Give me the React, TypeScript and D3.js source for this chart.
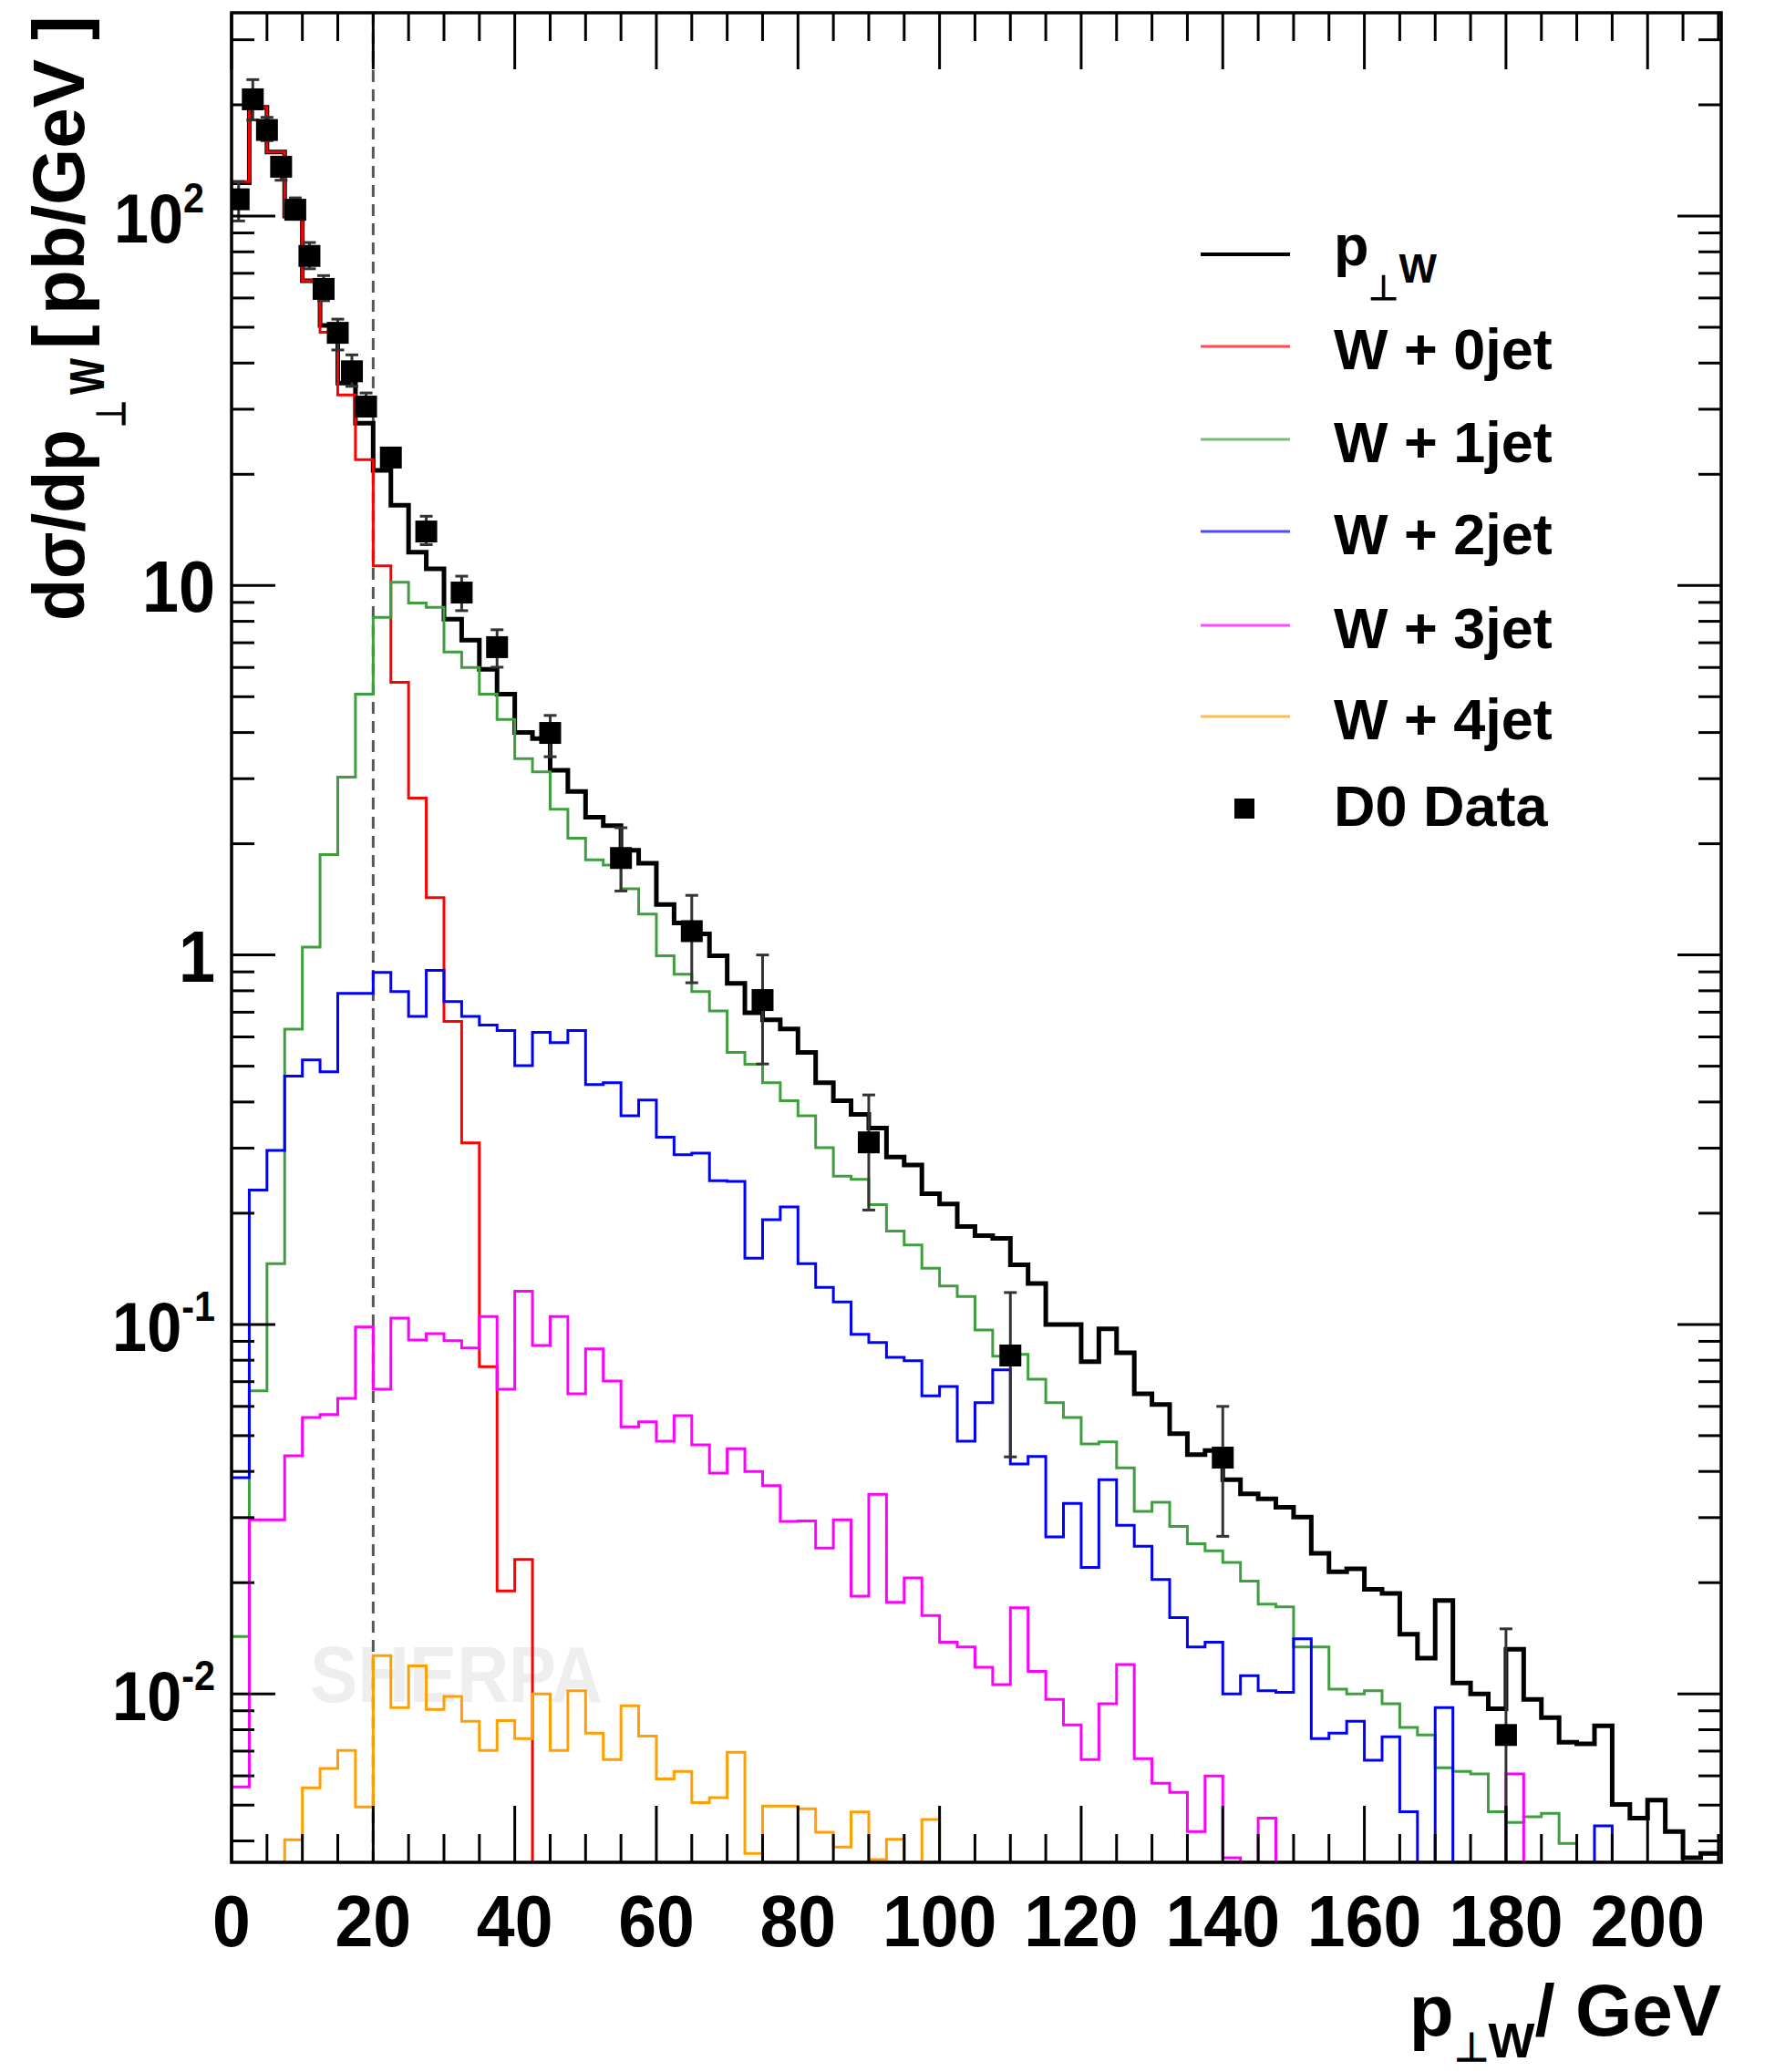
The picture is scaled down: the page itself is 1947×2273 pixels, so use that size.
import { useEffect, useRef } from "react";
import * as d3 from "d3";

const WIDTH = 1947;
const HEIGHT = 2273;

// Histograms: 84 bins of 2.5 GeV (0 .. 210 GeV), dσ/dp⊥W in pb/GeV
const binEdges = d3.range(0, 210.001, 2.5);

const total = [
  123, 197, 149, 100, 66.8, 50.6, 35.3, 27.5, 20.5, 16.5,
  12.3, 11.1, 8.11, 7.11, 5.93, 5.08, 4.0, 3.85, 3.16, 2.77,
  2.36, 2.24, 1.92, 1.77, 1.37, 1.22, 1.14, 0.995, 0.838, 0.698,
  0.668, 0.631, 0.545, 0.451, 0.403, 0.37, 0.34, 0.284, 0.27, 0.226,
  0.212, 0.184, 0.174, 0.171, 0.145, 0.129, 0.1, 0.1, 0.0793, 0.0973,
  0.0838, 0.0649, 0.0607, 0.0506, 0.0444, 0.0456, 0.038, 0.0348, 0.0337, 0.032,
  0.0301, 0.024, 0.0214, 0.0218, 0.0192, 0.0187, 0.0145, 0.0125, 0.0179, 0.0107,
  0.01, 0.00912, 0.0132, 0.00966, 0.00863, 0.0074, 0.00733, 0.0082, 0.00502, 0.00461,
  0.00516, 0.00424, 0.0036, 0.0037,
];

const jet0 = [
  124, 197, 149, 100, 66.8, 48.5, 32.8, 21.9, 11.3, 5.47,
  2.66, 1.43, 0.661, 0.31, 0.0769, 0.019, 0.0231, 0, 0, 0,
  0, 0, 0, 0, 0, 0, 0, 0, 0, 0,
  0, 0, 0, 0, 0, 0, 0, 0, 0, 0,
  0, 0, 0, 0, 0, 0, 0, 0, 0, 0,
  0, 0, 0, 0, 0, 0, 0, 0, 0, 0,
  0, 0, 0, 0, 0, 0, 0, 0, 0, 0,
  0, 0, 0, 0, 0, 0, 0, 0, 0, 0,
  0, 0, 0, 0,
];

const jet1 = [
  0.0143, 0.0661, 0.146, 0.63, 1.05, 1.87, 3.03, 5.08, 8.2, 10.2,
  8.97, 8.73, 6.61, 6.0, 5.08, 4.34, 3.4, 3.13, 2.48, 2.07,
  1.81, 1.75, 1.51, 1.29, 0.995, 0.887, 0.796, 0.706, 0.545, 0.506,
  0.451, 0.403, 0.367, 0.301, 0.252, 0.247, 0.211, 0.179, 0.164, 0.142,
  0.127, 0.119, 0.0966, 0.082, 0.083, 0.0711, 0.0614, 0.056, 0.0475, 0.0481,
  0.0409, 0.0312, 0.033, 0.0284, 0.0255, 0.0244, 0.0227, 0.0202, 0.0175, 0.0172,
  0.0134, 0.0134, 0.0103, 0.01, 0.0102, 0.0094, 0.00811, 0.00774, 0.00631, 0.00617,
  0.00607, 0.0048, 0.00449, 0.00465, 0.00475, 0.00394, 0, 0, 0, 0,
  0, 0, 0, 0,
];

const jet2 = [
  0.0385, 0.231, 0.296, 0.47, 0.52, 0.483, 0.787, 0.787, 0.897, 0.796,
  0.682, 0.908, 0.748, 0.682, 0.646, 0.624, 0.502, 0.617, 0.579, 0.624,
  0.446, 0.451, 0.367, 0.405, 0.321, 0.288, 0.291, 0.245, 0.244, 0.151,
  0.192, 0.208, 0.146, 0.126, 0.115, 0.094, 0.0893, 0.0815, 0.0798, 0.0641,
  0.0679, 0.0483, 0.0614, 0.0753, 0.0419, 0.0439, 0.0266, 0.0328, 0.022, 0.038,
  0.0286, 0.0251, 0.0204, 0.0161, 0.0134, 0.0138, 0.01, 0.0112, 0.0102, 0.0101,
  0.0141, 0.00757, 0.00783, 0.00843, 0.00661, 0.00766, 0.0048, 0, 0.00918, 0,
  0, 0, 0, 0, 0, 0, 0, 0.00439, 0, 0,
  0, 0, 0, 0,
];

const jet3 = [
  0.0056, 0.0296, 0.0296, 0.0441, 0.056, 0.057, 0.0631, 0.0984, 0.0668, 0.104,
  0.0908, 0.0944, 0.0904, 0.0863, 0.105, 0.0668, 0.123, 0.0877, 0.105, 0.0649,
  0.0859, 0.0703, 0.0528, 0.0545, 0.0483, 0.0566, 0.0472, 0.0396, 0.0461, 0.04,
  0.0366, 0.0293, 0.0294, 0.0248, 0.0296, 0.0184, 0.0347, 0.0177, 0.0206, 0.0163,
  0.0138, 0.0134, 0.0118, 0.0106, 0.0171, 0.0115, 0.00966, 0.00824, 0.00664, 0.0094,
  0.012, 0.00668, 0.00573, 0.00541, 0.00424, 0.006, 0.0036, 0, 0.00461, 0,
  0, 0, 0, 0, 0, 0, 0, 0, 0, 0,
  0, 0, 0.00607, 0, 0, 0, 0, 0, 0, 0,
  0, 0, 0, 0,
];

const jet4 = [
  0, 0, 0, 0.00403, 0.00557, 0.00628, 0.00703, 0.00494, 0.0127, 0.00918,
  0.0119, 0.00908, 0.00984, 0.00843, 0.00703, 0.00847, 0.00757, 0.01, 0.00703, 0.0102,
  0.00783, 0.00664, 0.00929, 0.00769, 0.00589, 0.00617, 0.00508, 0.00524, 0.00695, 0.0037,
  0.00497, 0.00497, 0.00489, 0.00422, 0.00385, 0.00479, 0.00356, 0.00404, 0, 0.00457,
  0, 0, 0, 0, 0, 0, 0, 0, 0, 0,
  0, 0, 0, 0, 0, 0, 0, 0, 0, 0,
  0, 0, 0, 0, 0, 0, 0, 0, 0, 0,
  0, 0, 0, 0, 0, 0, 0, 0, 0, 0,
  0, 0, 0, 0,
];

// D0 data points
const dataPt = [1, 3, 5, 7, 9, 11, 13, 15, 17, 19, 22.5, 27.5, 32.5, 37.5, 45, 55, 65, 75, 90, 110, 140, 180];
const dataVal = [111, 207, 171, 136, 104, 78, 63.5, 48.3, 38, 30.5, 22.2, 14, 9.57, 6.81, 3.99, 1.83, 1.16, 0.755, 0.311, 0.0824, 0.0436, 0.00774];
const dataLo = [97, 182, 160, 125, 98, 72, 59, 43.4, 34.6, 29, 21, 12.9, 8.55, 6.01, 3.44, 1.49, 0.841, 0.507, 0.204, 0.0438, 0.0267, 0.001];
const dataHi = [124, 234, 185, 144, 112, 84.8, 69, 52.6, 42.1, 33.2, 23.2, 15.4, 10.6, 7.59, 4.45, 2.21, 1.45, 1.0, 0.418, 0.122, 0.06, 0.015];

const series = [
  { name: "p⊥W", values: total, color: "#000000", width: 5 },
  { name: "W + 0jet", values: jet0, color: "#ff0000", width: 3 },
  { name: "W + 1jet", values: jet1, color: "#3f9f3f", width: 3 },
  { name: "W + 2jet", values: jet2, color: "#0000ff", width: 3 },
  { name: "W + 3jet", values: jet3, color: "#ff00ff", width: 3 },
  { name: "W + 4jet", values: jet4, color: "#ffa000", width: 3 },
];

const xTicks = [0, 20, 40, 60, 80, 100, 120, 140, 160, 180, 200];
const yDecades = [0.01, 0.1, 1, 10, 100];
const yTickBase = ["10", "10", "1", "10", "10"];
const yTickExp = ["-2", "-1", "", "", "2"];

const FONT = "'Liberation Sans', Arial, Helvetica, sans-serif";

export default function App() {
  const svgRef = useRef<SVGSVGElement>(null);

  useEffect(() => {
    const svg = d3.select(svgRef.current);
    svg.selectAll("*").remove();

    const left = 254, right = 1888, top = 14, bottom = 2043;
    const x = d3.scaleLinear().domain([0, 210.4]).range([left, right]);
    const yMin = 0.0035;
    const y = d3.scaleLog().domain([yMin, 355]).range([bottom, top]);

    svg.append("rect").attr("width", WIDTH).attr("height", HEIGHT).attr("fill", "#fff");

    svg.append("defs").append("clipPath").attr("id", "plot-clip")
      .append("rect")
      .attr("x", left).attr("y", top)
      .attr("width", right - left).attr("height", bottom - top);

    // watermark
    svg.append("text")
      .attr("x", 340).attr("y", 1867)
      .attr("font-family", FONT).attr("font-weight", "bold")
      .attr("font-size", 88)
      .attr("textLength", 321).attr("lengthAdjust", "spacingAndGlyphs")
      .attr("fill", "#eeeeee")
      .text("SHERPA");

    // cut line at 20 GeV
    svg.append("line")
      .attr("x1", x(20)).attr("x2", x(20))
      .attr("y1", top).attr("y2", bottom)
      .attr("stroke", "#555").attr("stroke-width", 3)
      .attr("stroke-dasharray", "13,8");

    const plot = svg.append("g").attr("clip-path", "url(#plot-clip)");

    const line = d3.line<[number, number]>()
      .x((d) => x(d[0]))
      .y((d) => y(Math.max(d[1], yMin)))
      .curve(d3.curveStepAfter);

    series.forEach((s) => {
      const pts: [number, number][] = s.values.map((v, i) => [binEdges[i], v]);
      pts.push([binEdges[s.values.length], s.values[s.values.length - 1]]);
      plot.append("path")
        .attr("d", line(pts))
        .attr("fill", "none")
        .attr("stroke", s.color)
        .attr("stroke-width", s.width)
        .attr("stroke-linejoin", "miter");
    });

    // data with error bars
    const pts = plot.append("g");
    dataPt.forEach((px, i) => {
      const cx = x(px);
      const yl = y(Math.max(dataLo[i], yMin * 0.5));
      const yh = y(dataHi[i]);
      pts.append("line").attr("x1", cx).attr("x2", cx).attr("y1", yl).attr("y2", yh)
        .attr("stroke", "#333").attr("stroke-width", 3);
      [yl, yh].forEach((yy) => {
        pts.append("line").attr("x1", cx - 7).attr("x2", cx + 7).attr("y1", yy).attr("y2", yy)
          .attr("stroke", "#333").attr("stroke-width", 3);
      });
      pts.append("rect")
        .attr("x", cx - 12).attr("y", y(dataVal[i]) - 12)
        .attr("width", 24).attr("height", 24)
        .attr("fill", "#000");
    });

    // frame
    svg.append("rect")
      .attr("x", left).attr("y", top)
      .attr("width", right - left).attr("height", bottom - top)
      .attr("fill", "none").attr("stroke", "#000").attr("stroke-width", 3.5);

    // x ticks (bottom + top)
    const ticks = svg.append("g").attr("stroke", "#000").attr("stroke-width", 3);
    d3.range(0, 211, 5).forEach((t) => {
      const len = t % 20 === 0 ? 62 : 31;
      ticks.append("line").attr("x1", x(t)).attr("x2", x(t)).attr("y1", bottom).attr("y2", bottom - len);
      ticks.append("line").attr("x1", x(t)).attr("x2", x(t)).attr("y1", top).attr("y2", top + len);
    });

    // y ticks (left + right)
    [0.001, 0.01, 0.1, 1, 10, 100].forEach((d) => {
      d3.range(1, 10).forEach((m) => {
        const v = d * m;
        if (v < yMin || v > 355) return;
        const len = m === 1 ? 48 : 25;
        ticks.append("line").attr("x1", left).attr("x2", left + len).attr("y1", y(v)).attr("y2", y(v));
        ticks.append("line").attr("x1", right).attr("x2", right - len).attr("y1", y(v)).attr("y2", y(v));
      });
    });

    // x tick labels
    xTicks.forEach((t) => {
      svg.append("text")
        .attr("transform", `translate(${x(t)},2135) scale(0.94,1)`)
        .attr("text-anchor", "middle")
        .attr("font-family", FONT).attr("font-weight", "bold").attr("font-size", 80)
        .text(t);
    });

    // y tick labels
    yDecades.forEach((v, i) => {
      const xr = v === 100 ? 224 : 236;
      const t = svg.append("text")
        .attr("transform", `translate(${xr},${y(v) + 29}) scale(0.9,1)`)
        .attr("text-anchor", "end")
        .attr("font-family", FONT).attr("font-weight", "bold").attr("font-size", 80);
      t.append("tspan").attr("font-size", yTickExp[i] ? 76 : 80).text(yTickBase[i]);
      if (yTickExp[i]) {
        t.append("tspan").attr("font-size", 46).attr("dy", -33).text(yTickExp[i]);
      }
    });

    // x axis title
    const xt = svg.append("text")
      .attr("x", 1888).attr("y", 2233)
      .attr("text-anchor", "end")
      .attr("font-family", FONT).attr("font-weight", "bold").attr("font-size", 80);
    xt.append("tspan").text("p");
    xt.append("tspan").attr("font-size", 44).attr("dy", 28).text("⊥");
    xt.append("tspan").attr("font-size", 54).attr("dy", -4).text("W");
    xt.append("tspan").attr("dy", -24).text("/ GeV");

    // y axis title, pieces placed along the rotated baseline
    const yt = svg.append("g")
      .attr("transform", "translate(92,0) rotate(-90)")
      .attr("font-family", FONT).attr("font-weight", "bold");
    yt.append("text").attr("x", -681).attr("y", 0).attr("font-size", 80)
      .attr("textLength", 210).attr("lengthAdjust", "spacingAndGlyphs").text("dσ/dp");
    yt.append("text").attr("x", -469).attr("y", 45).attr("font-size", 44)
      .attr("textLength", 30).attr("lengthAdjust", "spacingAndGlyphs").text("⊥");
    yt.append("text").attr("x", -433).attr("y", 22).attr("font-size", 54)
      .attr("textLength", 40).attr("lengthAdjust", "spacingAndGlyphs").text("W");
    yt.append("text").attr("x", -383).attr("y", 0).attr("font-size", 80).text("[");
    yt.append("text").attr("x", -345).attr("y", 0).attr("font-size", 80)
      .attr("textLength", 280).attr("lengthAdjust", "spacingAndGlyphs").text("pb/GeV");
    yt.append("text").attr("x", -44).attr("y", 0).attr("font-size", 80).text("]");

    // legend
    const legend = svg.append("g");
    const rowY = [279, 380, 482, 583, 686, 786];
    series.forEach((s, i) => {
      legend.append("line")
        .attr("x1", 1317).attr("x2", 1415)
        .attr("y1", rowY[i]).attr("y2", rowY[i])
        .attr("stroke", s.color).attr("stroke-width", s.width === 5 ? 4 : 3)
        .attr("opacity", s.width === 5 ? 1 : 0.7);
      const t = legend.append("text")
        .attr("x", 1463)
        .attr("font-family", FONT).attr("font-weight", "bold").attr("font-size", 63);
      if (i === 0) {
        t.attr("y", 291);
        t.append("tspan").text("p");
        t.append("tspan").attr("font-size", 38).attr("dy", 38).text("⊥");
        t.append("tspan").attr("font-size", 44).attr("dy", -19).text("W");
      } else {
        t.attr("y", rowY[i] + 25).text(s.name);
      }
    });
    legend.append("rect")
      .attr("x", 1354).attr("y", 876).attr("width", 22).attr("height", 22).attr("fill", "#000");
    legend.append("text")
      .attr("x", 1463).attr("y", 906)
      .attr("font-family", FONT).attr("font-weight", "bold").attr("font-size", 63)
      .text("D0 Data");
  }, []);

  return (
    <svg
      ref={svgRef}
      width={WIDTH}
      height={HEIGHT}
      style={{ position: "absolute", left: 0, top: 0, display: "block" }}
    />
  );
}
